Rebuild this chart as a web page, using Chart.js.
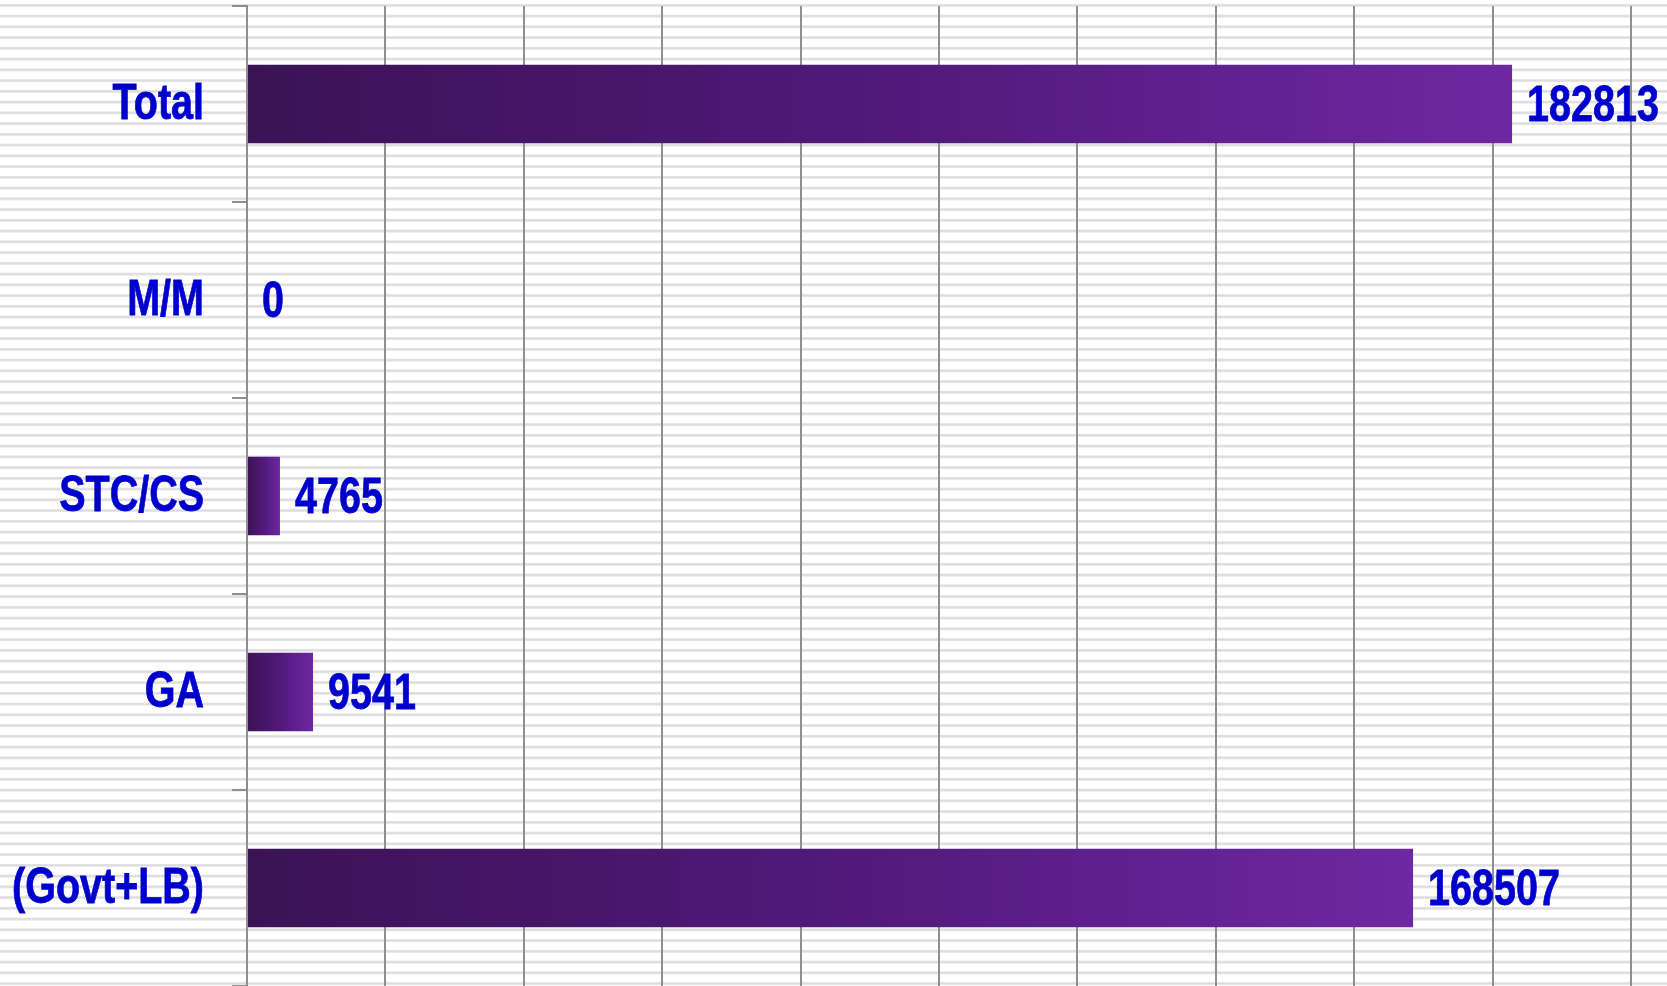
<!DOCTYPE html>
<html>
<head>
<meta charset="utf-8">
<title>Bar chart</title>
<script src="https://cdn.jsdelivr.net/npm/chart.js"></script>
<style>
    html, body {
        margin: 0;
        padding: 0;
    }
    body {
        width: 1667px;
        height: 986px;
        overflow: hidden;
        background: #fff;
        background-image: linear-gradient(to bottom, #fff 0, #fff 3.5px, #e6e6e6 4px, #dadada 5.2px, #e6e6e6 6.4px, #fff 7px, #fff 10.75px);
        background-size: 100% 10.75px;
        background-repeat: repeat-y;
    }
    #wrap {
        position: relative;
        width: 1667px;
        height: 986px;
    }
</style>
</head>
<body>
<div id="wrap"><canvas id="grafico"></canvas></div>
<script>
// datos
const categorias = ['Total', 'M/M', 'STC/CS', 'GA', '(Govt+LB)'];
const valores = [182813, 0, 4765, 9541, 168507];
const ejeMax = 200000;
const ejePaso = 20000;

// Arial Narrow no esta instalada: Liberation Sans negrita comprimida en horizontal
const fuente = "'Liberation Sans', Arial, sans-serif";
const tamano = 50;
const estrechar = 0.79;
const azul = '#0000cc';
const gris = '#8f8f8f';

function gradienteBarra(context) {
    const chart = context.chart;
    const x = chart.scales.x;
    if (!x || context.type !== 'data') {
        return '#4a1870';
    }
    const x0 = x.getPixelForValue(0);
    let x1 = x.getPixelForValue(context.raw);
    if (!isFinite(x0) || !isFinite(x1)) {
        return '#4a1870';
    }
    if (x1 - x0 < 1) x1 = x0 + 1;
    const g = chart.ctx.createLinearGradient(x0, 0, x1, 0);
    g.addColorStop(0, '#3a1355');
    g.addColorStop(0.5, '#51197a');
    g.addColorStop(1, '#6e28a2');
    return g;
}

function textoEstrecho(ctx, texto, x, y, alinear) {
    ctx.save();
    ctx.translate(x, y);
    ctx.scale(estrechar, 1);
    ctx.textAlign = alinear;
    ctx.fillText(texto, 0, 0);
    ctx.strokeText(texto, 0, 0);
    ctx.restore();
}

// etiquetas de categoria y de valor
const etiquetas = {
    id: 'etiquetas',
    afterDraw(chart) {
        const ctx = chart.ctx;
        const yScale = chart.scales.y;
        const meta = chart.getDatasetMeta(0);
        ctx.save();
        ctx.font = 'bold ' + tamano + 'px ' + fuente;
        ctx.fillStyle = azul;
        ctx.strokeStyle = azul;
        ctx.lineWidth = 0.8;
        ctx.textBaseline = 'middle';
        const xEtiqueta = yScale.right - 15 - 28;
        categorias.forEach((cat, i) => {
            textoEstrecho(ctx, cat, xEtiqueta, yScale.getPixelForTick(i) + 1, 'right');
        });
        meta.data.forEach((barra, i) => {
            textoEstrecho(ctx, String(valores[i]), barra.x + 15, barra.y + 3, 'left');
        });
        ctx.restore();
    }
};

const ctx = document.getElementById('grafico');

window.miGrafico = new Chart(ctx, {
    type: 'bar',
    data: {
        labels: categorias,
        datasets: [{
            data: valores,
            backgroundColor: gradienteBarra,
            borderWidth: 0,
            barPercentage: 0.5,
            categoryPercentage: 0.8
        }]
    },
    options: {
        indexAxis: 'y',
        responsive: true,
        maintainAspectRatio: false,
        animation: false,
        layout: {
            padding: { top: 6, right: 36, bottom: 0, left: 0 }
        },
        plugins: {
            legend: { display: false },
            tooltip: { enabled: false }
        },
        scales: {
            x: {
                min: 0,
                max: ejeMax,
                ticks: { display: false, stepSize: ejePaso },
                grid: {
                    color: gris,
                    lineWidth: 2,
                    drawTicks: false
                },
                border: { display: false }
            },
            y: {
                afterFit(scale) {
                    scale.width = 247;
                },
                ticks: { display: false },
                grid: {
                    offset: true,
                    drawOnChartArea: false,
                    drawTicks: true,
                    tickLength: 15,
                    color: gris,
                    lineWidth: 2
                },
                border: { display: true, color: gris, width: 2 }
            }
        }
    },
    plugins: [etiquetas]
});
</script>
</body>
</html>
